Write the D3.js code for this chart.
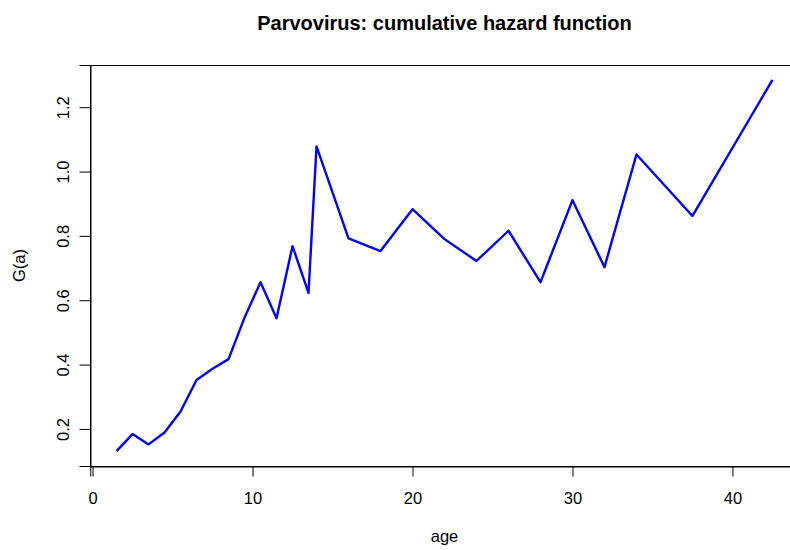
<!DOCTYPE html>
<html>
<head>
<meta charset="utf-8">
<script src="https://cdn.jsdelivr.net/npm/d3@7"></script>
<style>
  html, body { margin: 0; padding: 0; background: #fff; }
  text { font-family: "Liberation Sans", Arial, Helvetica, sans-serif; fill: #000; }
</style>
</head>
<body>
<svg id="chart" width="790" height="550"></svg>
<script>
// ---- data ----
const ages = [1.5, 2.5, 3.5, 4.5, 5.5, 6.5, 7.5, 8.5, 9.5, 10.5, 11.5, 12.5, 13.5, 14,
              16, 18, 20, 22, 24, 26, 28, 30, 32, 34, 37.5, 42.5];
const hazard = [0.131, 0.184, 0.152, 0.189, 0.254, 0.352, 0.387, 0.417, 0.546, 0.656,
                0.544, 0.768, 0.623, 1.078, 0.792, 0.753, 0.883, 0.790, 0.722, 0.816,
                0.656, 0.911, 0.703, 1.053, 0.862, 1.285];
const xTicks = [0, 10, 20, 30, 40];
const yTicks = [0.2, 0.4, 0.6, 0.8, 1.0, 1.2];
const titleText = "Parvovirus: cumulative hazard function";
const xLabel = "age";
const yLabel = "G(a)";

// ---- layout ----
const svg = d3.select("#chart");
const plotTop = 65, plotBottom = 466;
const plotLeft = 90.3, plotRight = 798.7;

// R-style 4% range extension
function ext(arr) {
  const [a, b] = d3.extent(arr);
  const d = (b - a) * 0.04;
  return [a - d, b + d];
}
const x = d3.scaleLinear().domain(ext(ages)).range([plotLeft, plotRight]);
const y = d3.scaleLinear().domain(ext(hazard)).range([plotBottom, plotTop]);

// line
const line = d3.line().x((d, i) => x(ages[i])).y(d => y(d));
svg.append("path")
  .datum(hazard)
  .attr("d", line)
  .attr("fill", "none")
  .attr("stroke", "#0000FF")
  .attr("stroke-width", 2.4)
  .attr("stroke-linejoin", "round");

// box
svg.append("rect")
  .attr("x", Math.round(plotLeft) + 0.5)
  .attr("y", plotTop + 0.5)
  .attr("width", plotRight - plotLeft)
  .attr("height", plotBottom - plotTop)
  .attr("fill", "none")
  .attr("stroke", "#000")
  .attr("stroke-width", 1);

// x axis
const xAxis = d3.axisBottom(x).tickValues(xTicks).tickSize(10).tickPadding(16)
  .tickFormat(d3.format("d"));
const gx = svg.append("g").attr("transform", `translate(0,${plotBottom + 0.5})`).call(xAxis);
gx.selectAll("text").style("font-size", "16.5px").attr("font-family", null);
gx.selectAll("line, path").attr("stroke", "#000");

// y axis
const yAxis = d3.axisLeft(y).tickValues(yTicks).tickSize(11).tickPadding(0)
  .tickFormat(d3.format(".1f"));
const gy = svg.append("g").attr("transform", `translate(${Math.round(plotLeft) + 0.5},0)`).call(yAxis);
gy.selectAll("line, path").attr("stroke", "#000");
gy.selectAll("text")
  .style("font-size", "16.5px")
  .attr("x", null).attr("dy", null)
  .attr("text-anchor", "middle")
  .attr("transform", "translate(-22,0) rotate(-90)");

// titles
svg.append("text")
  .attr("x", (plotLeft + plotRight) / 2)
  .attr("y", 30)
  .attr("text-anchor", "middle")
  .style("font-size", "20px")
  .style("font-weight", "bold")
  .text(titleText);

svg.append("text")
  .attr("x", (plotLeft + plotRight) / 2)
  .attr("y", 542)
  .attr("text-anchor", "middle")
  .style("font-size", "16.5px")
  .text(xLabel);

svg.append("text")
  .attr("transform", `translate(24.5,${(plotTop + plotBottom) / 2}) rotate(-90)`)
  .attr("text-anchor", "middle")
  .style("font-size", "16.5px")
  .text(yLabel);
</script>
</body>
</html>
